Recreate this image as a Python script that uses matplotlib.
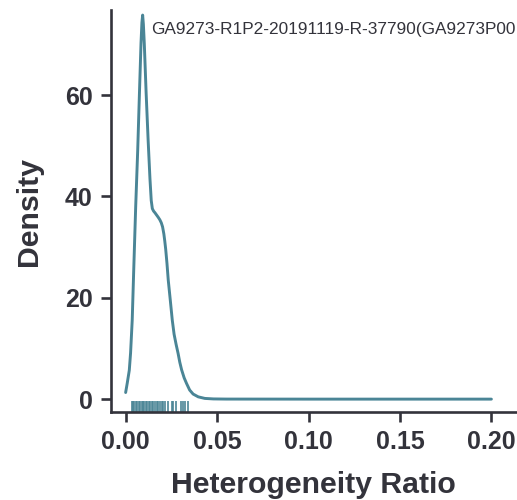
import matplotlib
matplotlib.use("Agg")
import matplotlib.pyplot as plt

plt.rcParams['font.family'] = ['Liberation Sans', 'DejaVu Sans']

# KDE curve
curve_x = [0.0000, 0.0009, 0.0020, 0.0027, 0.0036, 0.0044, 0.0055, 0.0066, 0.0075,
           0.0084, 0.0089, 0.0093, 0.0097, 0.0102, 0.0112, 0.0123, 0.0133, 0.0140,
           0.0146, 0.0153, 0.0160, 0.0170, 0.0178, 0.0187, 0.0195, 0.0202, 0.0209,
           0.0214, 0.0219, 0.0226, 0.0233, 0.0244, 0.0255, 0.0265, 0.0276, 0.0287,
           0.0296, 0.0306, 0.0320, 0.0333, 0.0350, 0.0369, 0.0397, 0.0433, 0.0480,
           0.0550, 0.1000, 0.1500, 0.2000]
curve_y = [1.3, 3.2, 5.7, 9.1, 15.6, 25.2, 38.0, 49.1, 59.8,
           70.2, 74.3, 75.8, 74.0, 70.2, 60.5, 51.1, 43.5, 39.2,
           37.6, 37.1, 36.8, 36.3, 35.9, 35.4, 34.8, 34.0, 32.6,
           31.2, 29.6, 26.8, 23.5, 19.6, 15.6, 12.8, 10.8, 9.0,
           7.3, 5.8, 4.2, 3.1, 1.8, 1.0, 0.45, 0.14, 0.04,
           0.01, 0.0, 0.0, 0.0]

# rug sample values
rug_x = [0.0033, 0.0040, 0.0047, 0.0056, 0.0064, 0.0073, 0.0080, 0.0087, 0.0095,
         0.0102, 0.0111, 0.0118, 0.0127, 0.0135, 0.0142, 0.0151, 0.0160, 0.0169,
         0.0178, 0.0187, 0.0197, 0.0206, 0.0215, 0.0230, 0.0251, 0.0260, 0.0273,
         0.0302, 0.0315, 0.0324, 0.0342]

title_text = "GA9273-R1P2-20191119-R-37790(GA9273P00"
x_ticks = [0.00, 0.05, 0.10, 0.15, 0.20]
x_tick_labels = ["0.00", "0.05", "0.10", "0.15", "0.20"]
y_ticks = [0, 20, 40, 60]

line_color = "#4a8596"
text_color = "#33333b"

fig = plt.figure(figsize=(5.17, 5.00), dpi=100)
ax = fig.add_axes([0.214, 0.1754, 0.786, 0.8036])

ax.plot(curve_x, curve_y, color=line_color, lw=2.1,
        solid_capstyle='round', solid_joinstyle='round')
for v in rug_x:
    ax.axvline(v, ymin=0, ymax=0.026, color=line_color, lw=1.4, alpha=0.85)

ax.set_xlim(-0.0082, 0.2140)
ax.set_ylim(-2.6, 76.7)
ax.set_xticks(x_ticks)
ax.set_xticklabels(x_tick_labels)
ax.set_yticks(y_ticks)

for s in ['top', 'right']:
    ax.spines[s].set_visible(False)
for s in ['left', 'bottom']:
    ax.spines[s].set_linewidth(1.9)
    ax.spines[s].set_color(text_color)

ax.tick_params(axis='both', length=7, width=1.9, color=text_color,
               labelsize=18, labelcolor=text_color, pad=6)
for lab in ax.get_xticklabels() + ax.get_yticklabels():
    lab.set_fontweight('bold')

ax.set_xlabel("Heterogeneity Ratio", fontsize=21.8, fontweight='bold',
              color=text_color, labelpad=12)
ax.set_ylabel("Density", fontsize=21.8, fontweight='bold',
              color=text_color, labelpad=16)

ax.text(0.0142, 73.0, title_text, fontsize=12.4, color=text_color,
        ha='left', va='center', clip_on=False)

fig.savefig("out.png", dpi=100)
